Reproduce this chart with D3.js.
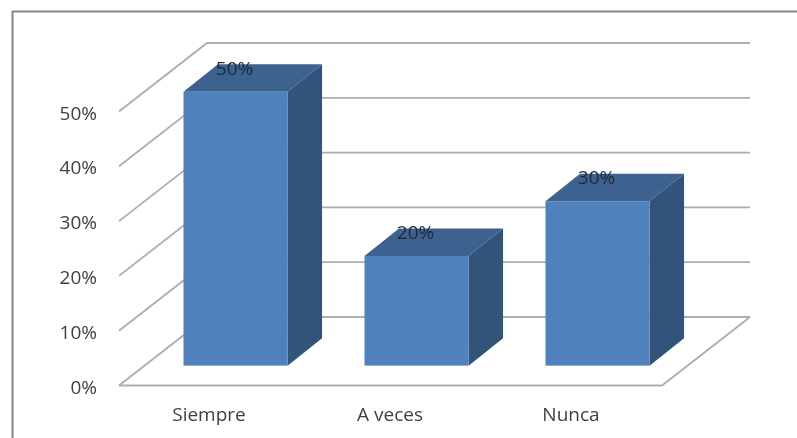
<!DOCTYPE html>
<html><head><meta charset="utf-8">
<script src="https://cdn.jsdelivr.net/npm/d3@7/dist/d3.min.js"></script>
<style>
html,body{margin:0;padding:0;background:#fff}
svg{display:block}
text{font-family:"Open Sans",sans-serif}
.axis path,.axis line{display:none}
.axis text{font-size:19px;fill:#404040;font-family:"Open Sans",sans-serif}
</style></head><body>
<svg id="c" width="797" height="438"></svg>
<script>
const categories = ["Siempre","A veces","Nunca"];
const values = [50,20,30];
const ticks = [0,10,20,30,40,50];

const svg = d3.select("#c");
const defs = svg.append("defs");
defs.append("filter").attr("id","soft").append("feGaussianBlur").attr("stdDeviation",0.55);
const root = svg.append("g").attr("filter","url(#soft)");

// frame
root.append("path").attr("d","M12.5,440V11.5H799").attr("fill","none").attr("stroke","#858585").attr("stroke-width",2);

const y = d3.scaleLinear().domain([0,50]).range([385.5,111.5]);
const x = d3.scaleBand().domain(categories).range([119.5,662.5]).paddingInner(0.425).paddingOuter(0.2125);

const wallDx = 88, wallDy = -68.5;    // depth of the floor
const barInset = 0.29;                // bar front sits this far back on the floor
const barDx = 34.5, barDy = -27.5;    // depth of a bar
const grid = "#adadad";

const gridG = root.append("g").attr("fill","none").attr("stroke",grid).attr("stroke-width",1.8);
gridG.selectAll(".wall").data(ticks).join("path").attr("class","wall")
  .attr("d",t=>`M${119},${y(t)}L${119+wallDx},${y(t)+wallDy}H${662+wallDx}`);
gridG.append("path").attr("d",`M119,${y(0)}H662L${662+wallDx},${y(0)+wallDy}`);

const fx = c => x(c)+wallDx*barInset;
const fy = v => y(v)+wallDy*barInset;
const bw = x.bandwidth();

const bars = root.append("g").selectAll("g").data(categories.map((c,i)=>({c,v:values[i]}))).join("g");
bars.append("path").attr("fill","#30527A")
  .attr("d",d=>`M${fx(d.c)+bw},${fy(0)}V${fy(d.v)}l${barDx},${barDy}V${fy(0)+barDy}Z`);
bars.append("path").attr("fill","#3C628F")
  .attr("d",d=>`M${fx(d.c)},${fy(d.v)}h${bw}l${barDx},${barDy}h${-bw}Z`);
bars.append("rect").attr("fill","#4F81BD")
  .attr("x",d=>fx(d.c)).attr("y",d=>fy(d.v)).attr("width",bw).attr("height",d=>fy(0)-fy(d.v));
bars.append("text").attr("x",d=>fx(d.c)+bw/2-1).attr("y",d=>fy(d.v)-17)
  .attr("text-anchor","middle").attr("font-size",19).attr("fill","#1f2937")
  .text(d=>d.v+"%");

const ax = d3.axisLeft(y).tickValues(ticks).tickSize(0).tickPadding(0).tickFormat(d=>d+"%");
root.append("g").attr("class","axis").attr("transform","translate(97,1.5)").call(ax);
const bx = d3.axisBottom(x).tickSize(0).tickPadding(0);
root.append("g").attr("class","axis").attr("transform","translate(-1,407)").call(bx).select(".domain").remove();
</script>
</body></html>
